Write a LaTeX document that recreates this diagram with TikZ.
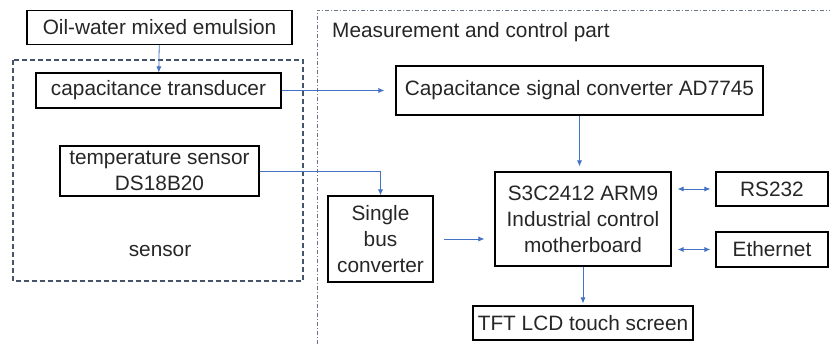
\documentclass[tikz,border=0pt]{standalone}
\usepackage{fontspec}
\setmainfont{Liberation Sans}
\usetikzlibrary{arrows.meta}
\definecolor{linkblue}{RGB}{68,114,196}
\definecolor{frameblue}{RGB}{68,84,106}

\begin{document}
\begin{tikzpicture}[x=1pt, y=-1pt,
    block/.style={draw, line width=1.1pt, inner sep=0pt, align=center,
      font=\fontsize{20.8}{26}\selectfont, text=black!85},
    label/.style={inner sep=0pt, font=\fontsize{20.8}{26}\selectfont, text=black!85},
    link/.style={linkblue, line width=0.8pt, -{Latex[length=6pt,width=5pt]}},
    dlink/.style={linkblue, line width=0.8pt, {Latex[length=6pt,width=5pt]}-{Latex[length=6pt,width=5pt]}}]
      \useasboundingbox (0,0) rectangle (830,344);

      % groups
      \draw[frameblue, line width=1.2pt, dash pattern=on 5pt off 3pt] (13,60) rectangle (303,281);
      \draw[frameblue!80, line width=0.9pt, dash pattern=on 4pt off 2pt on 1pt off 2pt] (317,344) -- (317,10) -- (831,10);
      \node[label] (sens) at (160,251) {sensor};
      \node[label, anchor=west] (meas) at (332,32) {Measurement and control part};

      % blocks
      \node[block, minimum width=265pt, minimum height=34pt] (oil) at (159.5,27.5) {Oil-water mixed emulsion};
      \node[block, minimum width=245pt, minimum height=35pt] (cap) at (158.5,90.5) {capacitance transducer};
      \node[block, minimum width=199pt, minimum height=50pt] (temp) at (159.5,171) {temperature sensor\\DS18B20};
      \node[block, minimum width=367pt, minimum height=49pt] (conv) at (579.5,90.5) {Capacitance signal converter AD7745};
      \node[block, minimum width=176pt, minimum height=94pt] (arm) at (583,219) {S3C2412 ARM9\\Industrial control\\motherboard};
      \node[block, minimum width=105pt, minimum height=86pt] (bus) at (380.5,239) {Single\\bus\\converter};
      \node[block, minimum width=112pt, minimum height=34pt] (rs) at (772,189) {RS232};
      \node[block, minimum width=112pt, minimum height=35pt] (eth) at (772,249.5) {Ethernet};
      \node[block, minimum width=220pt, minimum height=34pt] (tft) at (583,323) {TFT LCD touch screen};

      % connections
      \draw[link] (oil) -- (cap);
      \draw[link, shorten >=11pt] (cap.east) -- (cap.east -| conv.west);
      \draw[link, shorten >=5pt] (conv.south) -- (conv.south |- arm.north);
      \draw[link] (temp.east) -| (bus.north);
      \draw[link, shorten <=10pt, shorten >=10pt] (bus.east) -- (bus.east -| arm.west);
      \draw[dlink, shorten <=6pt, shorten >=5pt] (arm.east |- rs.west) -- (rs.west);
      \draw[dlink, shorten <=6pt, shorten >=5pt] (arm.east |- eth.west) -- (eth.west);
      \draw[link, shorten >=2pt] (arm) -- (tft);
\end{tikzpicture}
\end{document}
